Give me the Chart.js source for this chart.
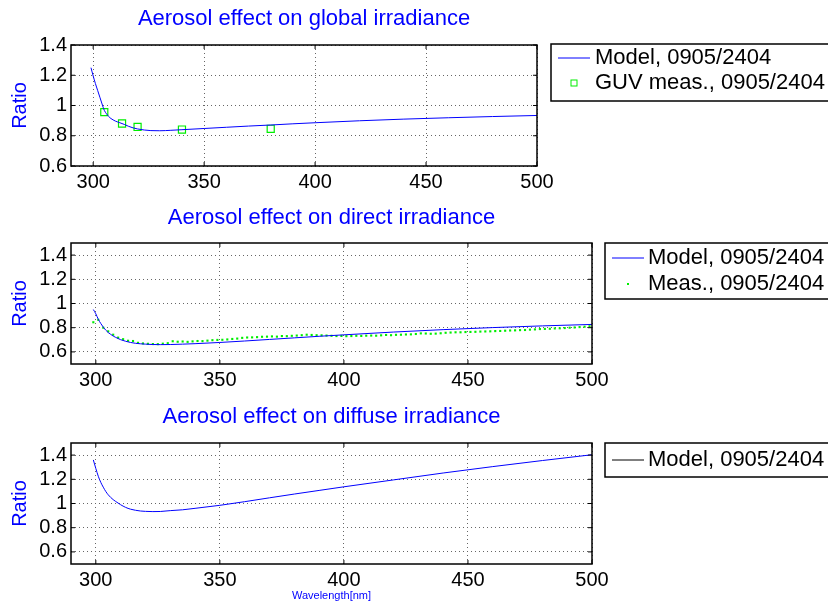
<!DOCTYPE html>
<html>
<head>
<meta charset="utf-8">
<script src="https://cdn.jsdelivr.net/npm/chart.js@4.4.1/dist/chart.umd.min.js"></script>
<style>
  body { margin: 0; width: 828px; height: 603px; background: #fff; position: relative; overflow: hidden; }
  canvas { position: absolute; left: 0; }
</style>
</head>
<body>
<canvas id="c1" width="828" height="200" style="top:0"></canvas>
<canvas id="c2" width="828" height="200" style="top:200px"></canvas>
<canvas id="c3" width="828" height="203" style="top:400px"></canvas>
<script>
// axis ticks
const xTicks = [300, 350, 400, 450, 500];
const yTicks = [0.6, 0.8, 1, 1.2, 1.4];

// global irradiance: model + GUV measurements
const globalNm = [299, 300, 301, 302, 303, 304, 305, 306, 307, 308, 310, 312, 314, 316, 318, 320, 323, 326, 330, 335, 340, 350, 360, 370, 380, 390, 400, 420, 440, 460, 480, 500];
const globalModel = [1.25, 1.195, 1.145, 1.10, 1.055, 1.01, 0.968, 0.945, 0.927, 0.914, 0.897, 0.886, 0.875, 0.862, 0.852, 0.845, 0.838, 0.834, 0.833, 0.836, 0.840, 0.848, 0.856, 0.864, 0.871, 0.879, 0.886, 0.899, 0.910, 0.919, 0.927, 0.934];
const guvNm = [305, 313, 320, 340, 380];
const guvMeas = [0.956, 0.881, 0.858, 0.841, 0.846];

// direct irradiance: model + measurements
const directNm = [299, 300, 301, 302, 303, 304, 305, 306, 307, 308, 310, 312, 314, 316, 318, 320, 323, 326, 330, 335, 340, 350, 360, 370, 380, 390, 400, 420, 440, 460, 480, 500];
const directModel = [0.95, 0.915, 0.87, 0.835, 0.805, 0.78, 0.76, 0.745, 0.731, 0.72, 0.701, 0.688, 0.678, 0.671, 0.667, 0.664, 0.661, 0.66, 0.661, 0.664, 0.668, 0.678, 0.69, 0.703, 0.716, 0.729, 0.741, 0.764, 0.784, 0.801, 0.815, 0.827];
const directMeasNm = [299, 301, 303, 305, 307, 309, 311, 313, 315, 317, 319, 321, 323, 325, 327, 329, 331, 333, 335, 337, 339, 341, 343, 345, 347, 349, 351, 353, 355, 357, 359, 361, 363, 365, 367, 369, 371, 373, 375, 377, 379, 381, 383, 385, 387, 389, 391, 393, 395, 397, 399, 401, 403, 405, 407, 409, 411, 413, 415, 417, 419, 421, 423, 425, 427, 429, 431, 433, 435, 437, 439, 441, 443, 445, 447, 449, 451, 453, 455, 457, 459, 461, 463, 465, 467, 469, 471, 473, 475, 477, 479, 481, 483, 485, 487, 489, 491, 493, 495, 497, 499];
const directMeas = [0.845, 0.865, 0.80, 0.77, 0.742, 0.718, 0.705, 0.692, 0.69, 0.675, 0.67, 0.667, 0.665, 0.664, 0.668, 0.672, 0.688, 0.684, 0.686, 0.683, 0.687, 0.69, 0.689, 0.693, 0.697, 0.699, 0.70, 0.703, 0.707, 0.71, 0.716, 0.719, 0.72, 0.722, 0.725, 0.726, 0.728, 0.726, 0.731, 0.73, 0.733, 0.735, 0.738, 0.742, 0.74, 0.738, 0.737, 0.735, 0.733, 0.731, 0.732, 0.73, 0.731, 0.733, 0.732, 0.734, 0.735, 0.734, 0.737, 0.74, 0.738, 0.741, 0.742, 0.744, 0.745, 0.748, 0.753, 0.752, 0.75, 0.751, 0.754, 0.758, 0.76, 0.762, 0.762, 0.764, 0.765, 0.766, 0.768, 0.769, 0.77, 0.772, 0.773, 0.775, 0.777, 0.778, 0.78, 0.781, 0.784, 0.786, 0.789, 0.79, 0.791, 0.794, 0.795, 0.797, 0.80, 0.802, 0.805, 0.808, 0.812];

// diffuse irradiance: model
const diffuseNm = [299, 300, 301, 302, 303, 304, 305, 306, 307, 308, 310, 312, 314, 316, 318, 320, 323, 326, 330, 335, 340, 350, 360, 370, 380, 390, 400, 420, 440, 460, 480, 500];
const diffuseModel = [1.36, 1.29, 1.225, 1.175, 1.135, 1.10, 1.072, 1.05, 1.032, 1.017, 0.99, 0.968, 0.953, 0.944, 0.938, 0.935, 0.933, 0.934, 0.941, 0.948, 0.96, 0.985, 1.015, 1.047, 1.078, 1.108, 1.138, 1.195, 1.252, 1.305, 1.355, 1.403];

const FONT = '"Liberation Sans", Arial, Helvetica, sans-serif';
Chart.defaults.font.family = FONT;
Chart.defaults.color = '#000';

function pts(xs, ys) {
  return xs.map((x, i) => ({ x: x, y: ys[i] }));
}

// frame, inward ticks and boxed legend like the matlab figure
const framePlugin = {
  id: 'frame',
  afterDraw(chart, args, opts) {
    const ctx = chart.ctx;
    const a = chart.chartArea;
    const sx = chart.scales.x, sy = chart.scales.y;
    ctx.save();
    ctx.strokeStyle = '#000';
    ctx.lineWidth = 1;
    ctx.beginPath();
    sx.ticks.forEach(t => {
      const p = sx.getPixelForValue(t.value);
      ctx.moveTo(p, a.bottom); ctx.lineTo(p, a.bottom - 4);
      ctx.moveTo(p, a.top); ctx.lineTo(p, a.top + 4);
    });
    sy.ticks.forEach(t => {
      const p = sy.getPixelForValue(t.value);
      ctx.moveTo(a.left, p); ctx.lineTo(a.left + 4, p);
      ctx.moveTo(a.right, p); ctx.lineTo(a.right - 4, p);
    });
    ctx.stroke();
    ctx.lineWidth = 1.5;
    ctx.strokeRect(a.left, a.top, a.right - a.left, a.bottom - a.top);

    // legend
    const L = opts.box;
    ctx.fillStyle = '#fff';
    ctx.fillRect(L.x, L.y, L.w, L.h);
    ctx.strokeRect(L.x, L.y, L.w, L.h);
    ctx.font = '22px ' + FONT;
    ctx.textBaseline = 'middle';
    ctx.textAlign = 'left';
    chart.data.datasets.forEach((ds, i) => {
      const ry = L.rows[i];
      if (ds.showLine) {
        ctx.strokeStyle = L.lineColor || ds.borderColor;
        ctx.lineWidth = 1;
        ctx.beginPath();
        ctx.moveTo(L.sample[0], ry);
        ctx.lineTo(L.sample[1], ry);
        ctx.stroke();
      } else {
        const cx = (L.sample[0] + L.sample[1]) / 2;
        ctx.strokeStyle = ds.borderColor;
        ctx.fillStyle = ds.backgroundColor;
        const s = ds.legendSize;
        if (ds.backgroundColor === 'transparent') {
          ctx.lineWidth = 1;
          ctx.strokeRect(cx - s / 2, ry - s / 2, s, s);
        } else {
          ctx.fillRect(cx - s / 2, ry - s / 2, s, s);
        }
      }
      ctx.fillStyle = '#000';
      ctx.fillText(ds.label, L.textX, ry);
    });
    ctx.restore();
  }
};

function makeChart(id, cfg) {
  return new Chart(document.getElementById(id), {
    type: 'scatter',
    data: { datasets: cfg.datasets },
    plugins: [framePlugin],
    options: {
      responsive: false,
      animation: false,
      layout: { padding: { left: 0, right: cfg.right, top: 0, bottom: 0 } },
      plugins: {
        legend: { display: false },
        tooltip: { enabled: false },
        title: {
          display: true,
          text: cfg.title,
          color: '#0000ff',
          fullSize: false,
          font: { size: 22, weight: 'normal' },
          padding: { top: cfg.titlePad[0], bottom: cfg.titlePad[1] }
        },
        frame: { box: cfg.legend }
      },
      scales: {
        x: {
          type: 'linear',
          min: 290,
          max: 500,
          afterBuildTicks: s => { s.ticks = xTicks.map(v => ({ value: v })); },
          afterFit: s => { s.height = cfg.xH; },
          ticks: { font: { size: 20 }, color: '#000', padding: 4, maxRotation: 0 },
          grid: { color: '#666', lineWidth: 1, drawTicks: false },
          border: { display: false, dash: [1, 3] },
          title: {
            display: !!cfg.xTitle,
            text: cfg.xTitle || '',
            color: '#0000ff',
            font: { size: 11 },
            padding: { top: 0, bottom: 0 }
          }
        },
        y: {
          type: 'linear',
          min: cfg.ymin,
          max: cfg.ymax,
          afterBuildTicks: s => { s.ticks = yTicks.map(v => ({ value: v })); },
          afterFit: s => { s.width = 71; },
          ticks: {
            font: { size: 20 },
            color: '#000',
            padding: 4,
            callback: v => String(Math.round(v * 10) / 10)
          },
          grid: { color: '#666', lineWidth: 1, drawTicks: false },
          border: { display: false, dash: [1, 3] },
          title: {
            display: true,
            text: 'Ratio',
            color: '#0000ff',
            font: { size: 20 },
            padding: { top: 8, bottom: 0 }
          }
        }
      }
    }
  });
}

function modelLine(xs, ys) {
  return {
    label: 'Model, 0905/2404',
    data: pts(xs, ys),
    showLine: true,
    borderColor: '#0000ff',
    borderWidth: 1,
    pointRadius: 0,
    cubicInterpolationMode: 'monotone'
  };
}

makeChart('c1', {
  title: 'Aerosol effect on global irradiance',
  titlePad: [5.8, 12.8],
  right: 291,
  xH: 34,
  ymin: 0.6,
  ymax: 1.4,
  datasets: [
    modelLine(globalNm, globalModel),
    {
      label: 'GUV meas., 0905/2404',
      data: pts(guvNm, guvMeas),
      showLine: false,
      pointStyle: 'rect',
      pointRadius: 5,
      borderColor: '#00ee00',
      backgroundColor: 'transparent',
      borderWidth: 1.2,
      legendSize: 6
    }
  ],
  legend: { x: 551, y: 44, w: 280, h: 57, sample: [558, 590], textX: 595, rows: [58, 83] }
});

makeChart('c2', {
  title: 'Aerosol effect on direct irradiance',
  titlePad: [4.8, 11.8],
  right: 236,
  xH: 36,
  ymin: 0.5,
  ymax: 1.5,
  datasets: [
    modelLine(directNm, directModel),
    {
      label: 'Meas., 0905/2404',
      data: pts(directMeasNm, directMeas),
      showLine: false,
      pointStyle: 'rect',
      pointRadius: 1.5,
      borderColor: '#00ee00',
      backgroundColor: '#00ee00',
      borderWidth: 0,
      legendSize: 2
    }
  ],
  legend: { x: 605, y: 43, w: 230, h: 56, sample: [612, 644], textX: 648, rows: [58, 84] }
});

makeChart('c3', {
  title: 'Aerosol effect on diffuse irradiance',
  titlePad: [3.8, 12.8],
  right: 236,
  xH: 39,
  ymin: 0.5,
  ymax: 1.5,
  xTitle: 'Wavelength[nm]',
  datasets: [
    modelLine(diffuseNm, diffuseModel)
  ],
  legend: { x: 605, y: 43, w: 230, h: 34, sample: [612, 644], textX: 648, rows: [60], lineColor: '#000' }
});
</script>
</body>
</html>
